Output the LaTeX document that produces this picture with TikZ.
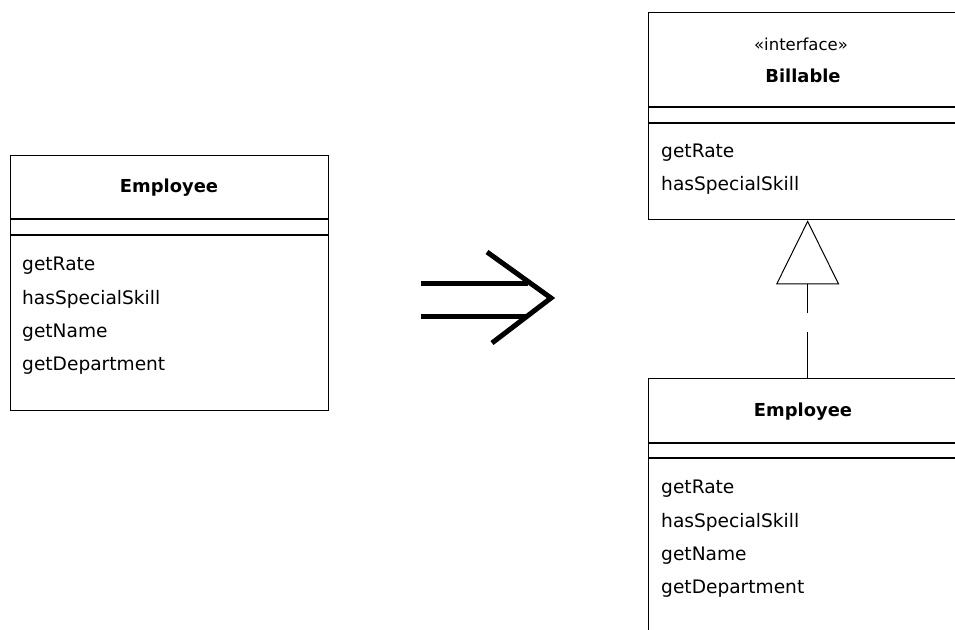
\documentclass[tikz,border=0pt]{standalone}
\usepackage{fontspec}
\setmainfont{DejaVu Sans}
\usetikzlibrary{arrows.meta}
\begin{document}
\begin{tikzpicture}[x=1pt,y=-1pt,
  classbox/.style={draw=black, line width=1.3pt, anchor=north west, inner sep=0pt, fill=none},
  member/.style={anchor=west, inner sep=0pt, font=\fontsize{18.6}{22}\selectfont},
  ctitle/.style={inner sep=0pt, font=\bfseries\fontsize{17.9}{22}\selectfont},
  stereo/.style={inner sep=0pt, font=\fontsize{16.5}{20}\selectfont},
  sepline/.style={line width=1.3pt},
  bigarrow/.style={line width=5pt, line cap=butt, line join=miter}]
\useasboundingbox (0,0) rectangle (955,629);
\clip (0,0) rectangle (955,629);
\fill[white] (0,0) rectangle (955,629);

% ---- left class: Employee ----
\node[classbox, minimum width=318pt, minimum height=255pt] (empA) at (10,155) {};
\draw[sepline] ([yshift=-64pt]empA.north west) -- ([yshift=-64pt]empA.north east);
\draw[sepline] ([yshift=-80pt]empA.north west) -- ([yshift=-80pt]empA.north east);
\node[ctitle] (empAtitle) at (169,188) {Employee};
\node[member] (empAm1) at (22,266) {getRate};
\node[member] (empAm2) at (22,299) {hasSpecialSkill};
\node[member] (empAm3) at (22,333) {getName};
\node[member] (empAm4) at (22,366) {getDepartment};

% ---- big arrow ----
\draw[bigarrow] (421,283) -- (528,283);
\draw[bigarrow] (421,316) -- (527,316);
\draw[bigarrow] (487,252) -- (551,298) -- (492,343);

% ---- interface Billable ----
\node[classbox, minimum width=318pt, minimum height=207pt] (bill) at (648,12) {};
\draw[sepline] ([yshift=-95pt]bill.north west) -- ([yshift=-95pt]bill.north east);
\draw[sepline] ([yshift=-111pt]bill.north west) -- ([yshift=-111pt]bill.north east);
\node[stereo] (billster) at (801,44) {«interface»};
\node[ctitle] (billtitle) at (803,76) {Billable};
\node[member] (billm1) at (661,153) {getRate};
\node[member] (billm2) at (661,185) {hasSpecialSkill};

% ---- right class: Employee ----
\node[classbox, minimum width=318pt, minimum height=300pt] (empB) at (648,378) {};
\draw[sepline] ([yshift=-65pt]empB.north west) -- ([yshift=-65pt]empB.north east);
\draw[sepline] ([yshift=-80pt]empB.north west) -- ([yshift=-80pt]empB.north east);
\node[ctitle] (empBtitle) at (803,412) {Employee};
\node[member] (empBm1) at (661,489) {getRate};
\node[member] (empBm2) at (661,522) {hasSpecialSkill};
\node[member] (empBm3) at (661,556) {getName};
\node[member] (empBm4) at (661,589) {getDepartment};

% ---- realization ----
\draw[line width=1.2pt, dash pattern=on 46pt off 19pt on 200pt,
      -{Triangle[open, length=64pt, width=63pt, line width=1pt]}]
  (empB.north -| bill.south) -- (bill.south);
\end{tikzpicture}
\end{document}
